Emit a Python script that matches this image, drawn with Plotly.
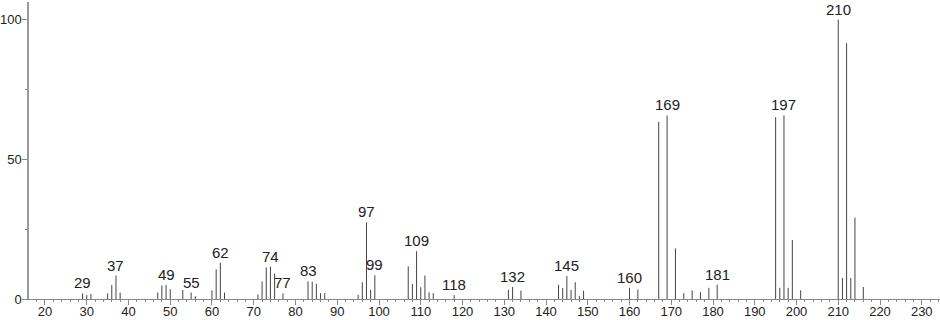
import plotly.graph_objects as go

# m/z values and relative intensities (%)
mz = [29, 30, 31, 35, 36, 37, 38, 47, 48, 49, 50, 53, 55, 56,
      60, 61, 62, 63, 71, 72, 73, 74, 75, 77, 83, 84, 85, 86, 87,
      95, 96, 97, 98, 99, 107, 108, 109, 110, 111, 112, 113, 118,
      131, 132, 134, 143, 144, 145, 146, 147, 148, 149, 160, 162,
      167, 169, 171, 173, 175, 177, 179, 181, 195, 196, 197, 198, 199, 201,
      210, 211, 212, 213, 214, 216]
intensity = [2.0, 1.4, 1.8, 2.0, 5.0, 8.4, 2.3, 2.3, 4.8, 5.0, 3.5, 3.2, 2.3, 1.0,
             3.1, 10.6, 13.0, 2.3, 1.6, 6.3, 11.3, 11.6, 9.1, 2.0, 6.3, 6.2, 5.4, 2.1, 2.1,
             1.5, 6.0, 27.4, 3.3, 8.5, 11.7, 5.4, 17.1, 4.2, 8.4, 2.4, 2.1, 1.4,
             3.3, 4.3, 3.0, 5.1, 3.9, 8.2, 3.2, 6.0, 1.0, 3.0, 4.0, 3.4,
             63.4, 65.7, 18.1, 2.1, 3.1, 2.4, 4.0, 5.1, 65.1, 4.0, 65.7, 4.0, 21.1, 3.1,
             100.0, 7.5, 91.6, 7.5, 29.1, 4.3]
labeled = [29, 37, 49, 55, 62, 74, 77, 83, 97, 99, 109, 118, 132, 145,
           160, 169, 181, 197, 210]
x_ticks = list(range(20, 231, 10))
y_ticks = [0, 50, 100]

xs, ys = [], []
for m, v in zip(mz, intensity):
    xs += [m, m, None]
    ys += [0, v, None]

fig = go.Figure()
fig.add_trace(go.Scatter(x=xs, y=ys, mode="lines",
                         line=dict(color="#444444", width=1),
                         hoverinfo="skip", showlegend=False))

lookup = dict(zip(mz, intensity))
for m in labeled:
    fig.add_annotation(x=m, y=lookup[m], text=str(m), showarrow=False,
                       xanchor="center", yanchor="bottom", yshift=0,
                       font=dict(size=15, color="#222222"))

font_family = "Liberation Sans, sans-serif"
fig.update_layout(
    width=940, height=320,
    margin=dict(l=29, r=0, t=2, b=21),
    paper_bgcolor="white", plot_bgcolor="white",
    font=dict(family=font_family, size=13, color="#222222"),
    xaxis=dict(range=[16.17, 234.37], tickvals=x_ticks, ticks="outside",
               ticklen=5, tickcolor="#888888", showgrid=False, zeroline=False,
               showline=True, linecolor="#888888", linewidth=1,
               automargin=False, tickfont=dict(size=13), ticklabelstandoff=-5,
               minor=dict(dtick=2, tick0=0, ticks="outside", ticklen=2,
                          tickcolor="#888888", showgrid=False)),
    yaxis=dict(range=[0, 106.3], tickvals=y_ticks, ticks="outside",
               ticklen=5, tickcolor="#888888", showgrid=False, zeroline=False,
               showline=True, linecolor="#999999", linewidth=1.5,
               automargin=False, tickfont=dict(size=13), ticklabelstandoff=-2,
               minor=dict(tickvals=[25, 75], ticks="outside", ticklen=2,
                          tickcolor="#888888", showgrid=False)),
)

fig.write_html("out.html")
